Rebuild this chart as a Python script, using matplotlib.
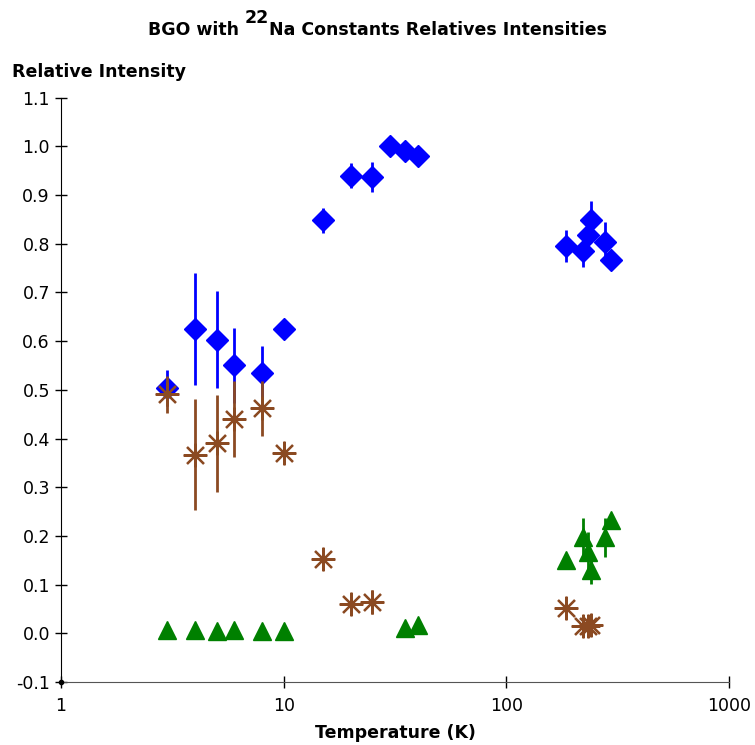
import matplotlib

matplotlib.use('Agg')
import matplotlib.pyplot as plt

# temperatures (K) and relative intensities
blue_temp = [3, 4, 5, 6, 8, 10, 15, 20, 25, 30, 35, 40, 185, 220, 233, 240, 278, 296]
blue_val = [0.503, 0.625, 0.603, 0.551, 0.535, 0.625, 0.848, 0.940, 0.937, 1.000, 0.990, 0.981,
            0.795, 0.786, 0.817, 0.848, 0.804, 0.766]
blue_err = [0.037, 0.115, 0.10, 0.077, 0.055, 0.01, 0.025, 0.025, 0.03, 0.0, 0.0, 0.0,
            0.033, 0.034, 0.03, 0.04, 0.04, 0.0]

brown_temp = [3, 4, 5, 6, 8, 10, 15, 20, 25, 185, 220, 233, 240]
brown_val = [0.491, 0.367, 0.390, 0.441, 0.462, 0.370, 0.152, 0.060, 0.064, 0.051, 0.016, 0.014, 0.018]
brown_err = [0.038, 0.114, 0.10, 0.078, 0.057, 0.01, 0.015, 0.02, 0.025, 0.0, 0.0, 0.0, 0.0]

green_temp = [3, 4, 5, 6, 8, 10, 35, 40, 185, 220, 233, 240, 278, 296]
green_val = [0.006, 0.007, 0.005, 0.007, 0.004, 0.004, 0.010, 0.017, 0.150, 0.197, 0.168, 0.131, 0.197, 0.232]
green_err = [0.0, 0.0, 0.0, 0.0, 0.0, 0.0, 0.0, 0.0, 0.0, 0.04, 0.04, 0.03, 0.04, 0.0]

x_ticks = [1, 10, 100, 1000]
x_labels = ['1', '10', '100', '1000']
y_ticks = [-0.1, 0.0, 0.1, 0.2, 0.3, 0.4, 0.5, 0.6, 0.7, 0.8, 0.9, 1.0, 1.1]

plt.rcParams['font.family'] = ['DejaVu Sans']

fig = plt.figure(figsize=(7.55, 7.45), dpi=100)
ax = fig.add_axes([61 / 755, 1 - 682 / 745, (729 - 61) / 755, (682 - 97.7) / 745])

# blue diamonds, then brown asterisks, then green triangles
ax.errorbar(blue_temp, blue_val, yerr=blue_err, fmt='D', color='#0000ff', ms=11,
            elinewidth=2, capsize=0, zorder=3)
ax.errorbar(brown_temp, brown_val, yerr=brown_err, fmt='none', ecolor='#8b4a22',
            elinewidth=2, capsize=0, zorder=4)
ax.plot(brown_temp, brown_val, linestyle='none', marker=(8, 2, 0), ms=17,
        mec='#8b4a22', mew=1.6, zorder=4)
ax.errorbar(green_temp, green_val, yerr=green_err, fmt='^', color='#008000', ms=13,
            elinewidth=2, capsize=0, zorder=5)

ax.set_xscale('log')
ax.set_xlim(x_ticks[0], x_ticks[-1])
ax.set_ylim(y_ticks[0], y_ticks[-1])
ax.set_xticks(x_ticks)
ax.set_xticklabels(x_labels)
ax.xaxis.set_minor_locator(matplotlib.ticker.NullLocator())
ax.set_yticks(y_ticks)
ax.set_yticklabels(['%.1f' % v for v in y_ticks])

# axes styling
ax.spines['top'].set_visible(False)
ax.spines['right'].set_visible(False)
ax.spines['left'].set_color('black')
ax.spines['bottom'].set_color('#555555')
ax.tick_params(direction='inout', length=9, width=1, labelsize=12.5, colors='black')
ax.tick_params(axis='x', pad=6)
ax.plot([x_ticks[0]], [y_ticks[0]], 'o', color='black', ms=3, clip_on=False, zorder=6)

# title in three pieces so the 22 superscript stays full size
t1 = fig.text(148 / 755, 1 - 35 / 745, 'BGO with ', ha='left', va='baseline',
              fontsize=12.5, fontweight='bold')
t2 = plt.annotate('22', xy=(1, 0), xycoords=t1, xytext=(0, 12), textcoords='offset pixels',
                  va='bottom', ha='left', fontsize=12.5, fontweight='bold', annotation_clip=False)
t3 = plt.annotate('Na Constants Relatives Intensities', xy=(1, 0), xycoords=t2, xytext=(0, -12),
                  textcoords='offset pixels', va='bottom', ha='left', fontsize=12.5,
                  fontweight='bold', annotation_clip=False)

fig.text(12 / 755, 1 - 72 / 745, 'Relative Intensity', ha='left', va='center',
         fontsize=12.5, fontweight='bold')
fig.text(395 / 755, 1 - 733 / 745, 'Temperature (K)', ha='center', va='center',
         fontsize=12.5, fontweight='bold')

plt.savefig('out.png', dpi=100)
